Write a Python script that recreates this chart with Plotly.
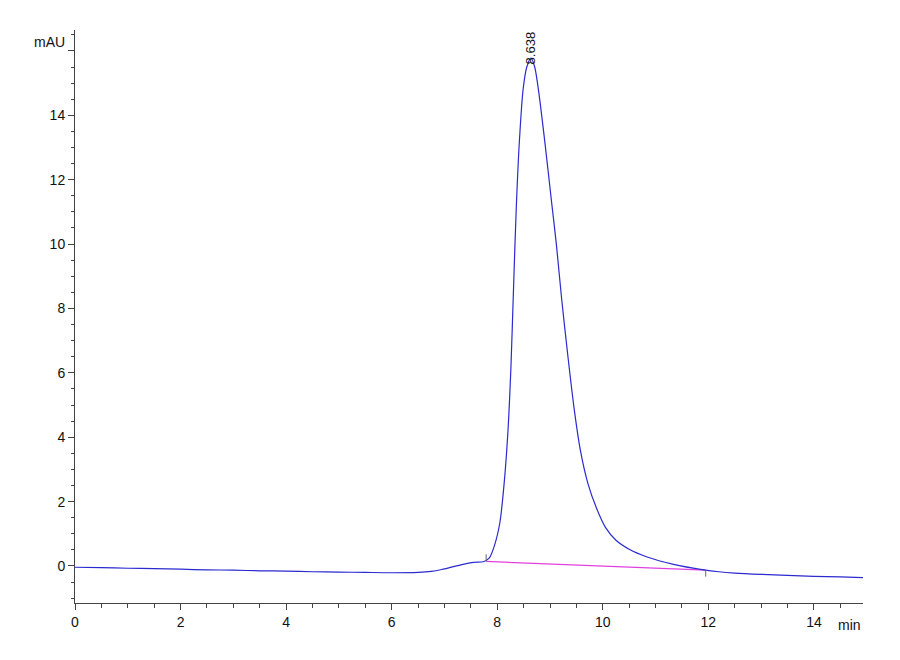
import plotly.graph_objects as go

# chromatogram trace (min, mAU)
time_min = [0, 0.5, 1, 1.5, 2, 2.5, 3, 3.5, 4, 4.5, 5, 5.5, 6, 6.5, 6.75, 6.95,
            7.15, 7.35, 7.55, 7.75, 7.85, 7.95, 8.05, 8.13, 8.2, 8.26, 8.31, 8.36,
            8.42, 8.49, 8.56, 8.64, 8.71, 8.78, 8.9, 9.03, 9.12, 9.22, 9.34,
            9.46, 9.58, 9.72, 9.88, 10.05, 10.25, 10.5, 10.84, 11.34, 11.91, 12.2,
            12.5, 13, 13.5, 14, 14.5, 14.93]
signal_mau = [-0.04, -0.05, -0.07, -0.08, -0.10, -0.12, -0.13, -0.15, -0.16,
              -0.18, -0.19, -0.20, -0.21, -0.20, -0.17, -0.11, -0.03, 0.05,
              0.11, 0.14, 0.25, 0.65, 1.35, 2.55, 4.1, 6.2, 8.7, 11.1, 13.2,
              14.8, 15.5, 15.78, 15.5, 14.8, 13.2, 11.3, 10.0, 8.3, 6.5,
              4.85, 3.55, 2.55, 1.8, 1.2, 0.8, 0.52, 0.28, 0.05, -0.12, -0.18,
              -0.22, -0.26, -0.29, -0.32, -0.34, -0.36]

# integration baseline of the peak
baseline_t = [7.79, 11.95]
baseline_y = [0.14, -0.13]
start_mark_y = [0.14, 0.36]
end_mark_y = [-0.13, -0.33]

peak_time = 8.638
peak_height = 15.78
peak_label = "8.638"

x_ticks = [0, 2, 4, 6, 8, 10, 12, 14]
y_ticks = [0, 2, 4, 6, 8, 10, 12, 14, 16]
y_labels = ["0", "2", "4", "6", "8", "10", "12", "14", ""]

fig = go.Figure()

fig.add_trace(go.Scatter(x=baseline_t, y=baseline_y, mode="lines",
                         line=dict(color="#e040e0", width=1.3), hoverinfo="skip"))
fig.add_trace(go.Scatter(x=time_min, y=signal_mau, mode="lines",
                         line=dict(color="#2a2ad0", width=1.2, shape="spline", smoothing=0.8)))
fig.add_trace(go.Scatter(x=[baseline_t[0]] * 2, y=start_mark_y, mode="lines",
                         line=dict(color="#666666", width=1)))
fig.add_trace(go.Scatter(x=[baseline_t[1]] * 2, y=end_mark_y, mode="lines",
                         line=dict(color="#666666", width=1)))

label_font = dict(family="Liberation Sans, Arial, sans-serif", size=14, color="#111111")

fig.add_annotation(x=peak_time, y=peak_height, text=peak_label, textangle=-90,
                   showarrow=False, xanchor="center", yanchor="bottom", yshift=-8,
                   font=dict(family="Liberation Sans, Arial, sans-serif", size=13, color="#111111"))
fig.add_annotation(x=0, y=1, xref="paper", yref="paper", text="mAU", showarrow=False,
                   xanchor="right", yanchor="top", xshift=-8, yshift=-2, font=label_font)
fig.add_annotation(x=1, y=0, xref="paper", yref="paper", text="min", showarrow=False,
                   xanchor="right", yanchor="top", yshift=-12, font=label_font)

axis_style = dict(showline=True, linecolor="#444444", linewidth=1, ticks="outside",
                  ticklen=6, tickcolor="#444444", showgrid=False, zeroline=False,
                  automargin=False, tickfont=label_font)

fig.update_xaxes(range=[0, 14.93], tickvals=x_ticks,
                 minor=dict(dtick=0.5, tick0=0, ticks="outside", ticklen=4, tickcolor="#444444"),
                 **axis_style)
fig.update_yaxes(range=[-1.15, 16.65], tickvals=y_ticks, ticktext=y_labels,
                 minor=dict(dtick=0.5, tick0=0, ticks="outside", ticklen=3, tickcolor="#444444"),
                 **axis_style)

fig.update_layout(width=900, height=660, showlegend=False,
                  paper_bgcolor="white", plot_bgcolor="white",
                  margin=dict(l=67, r=45, t=22, b=65),
                  font=dict(family="Liberation Sans, Arial, sans-serif"))

fig.write_html("out.html")
